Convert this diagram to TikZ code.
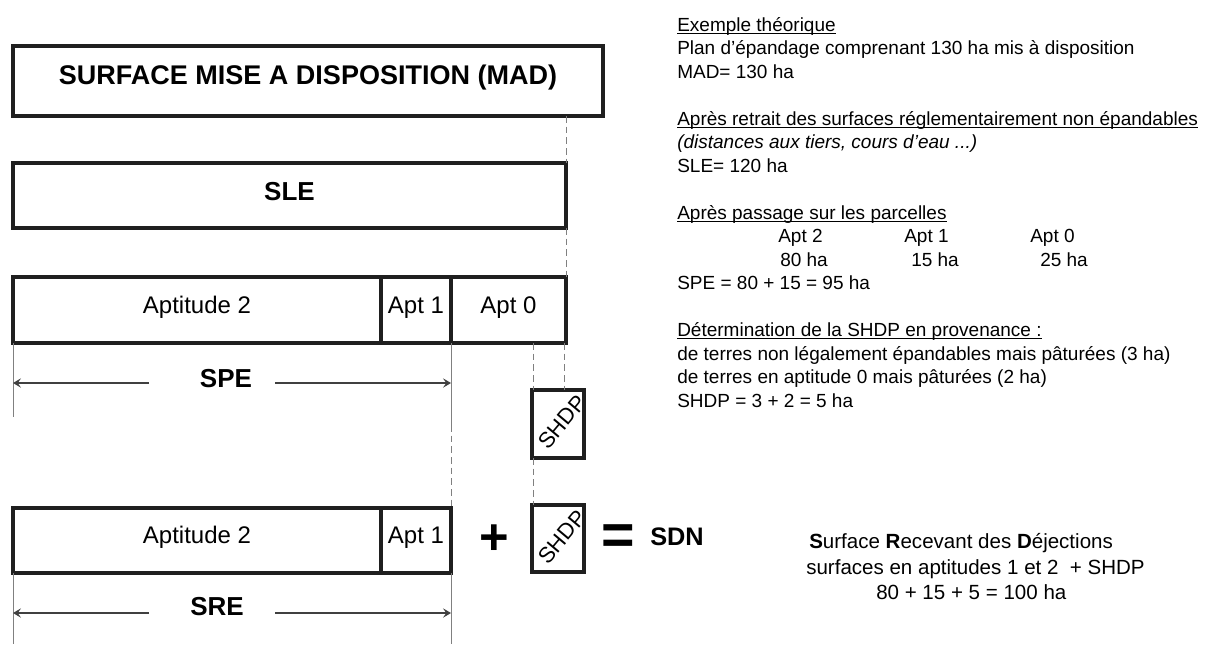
\documentclass[tikz,border=0pt]{standalone}
\usepackage{fontspec}
\setmainfont{Liberation Sans}
\usetikzlibrary{fit,arrows.meta}
\newcommand\ulx[1]{\underline{\smash{#1}}}
\begin{document}
\begin{tikzpicture}[x=0.75pt,y=-0.75pt,
  box/.style={draw=black!88, line width=3pt, inner sep=0pt},
  big/.style={font=\fontsize{20.25}{22}\selectfont\bfseries, inner sep=0pt, text height=0.72em, text depth=0.2em},
  lbl/.style={font=\fontsize{19.5}{22}\selectfont\bfseries, inner sep=0pt, text height=0.72em, text depth=0em},
  apt/.style={font=\fontsize{18}{20}\selectfont, inner sep=0pt, text height=0.72em, text depth=0.2em},
  rot/.style={font=\fontsize{16.5}{18}\selectfont, rotate=50, inner sep=0pt},
  dim/.style={draw=black!75, line width=0.8pt, -{Stealth[length=6pt,width=7pt,inset=2.5pt]}},
  ext/.style={draw=black!50, line width=0.7pt},
  dsh/.style={draw=black!50, line width=0.7pt, dash pattern=on 5pt off 3pt},
  txt/.style={font=\fontsize{14.25}{17}\selectfont, anchor=base west, inner sep=0pt},
  btxt/.style={font=\fontsize{15.4}{18}\selectfont, anchor=base west, inner sep=0pt}]
\useasboundingbox (0,0) rectangle (1220,644);
\fill[white] (0,0) rectangle (1220,644);

% boxes
\node[box, fit={(13,46)(603,116)}] (mad) {};
\node[big] (madt) at (mad.center) {SURFACE MISE A DISPOSITION (MAD)};
\node[box, fit={(13,163)(566,228)}] (sle) {};
\node[lbl] (slet) at (sle.center) {SLE};
\node[box, fit={(13,277)(381,343)}] (a2) {};
\node[apt] (a2t) at (a2.center) {Aptitude 2};
\node[box, fit={(381,277)(451,343)}] (a1) {};
\node[apt] (a1t) at (a1.center) {Apt 1};
\node[box, fit={(451,277)(566,343)}] (a0) {};
\node[apt] (a0t) at (a0.center) {Apt 0};
\node[box, fit={(532,390)(584,458)}] (sh1) {};
\node[rot] (sh1t) at (562,422) {SHDP};
\node[box, fit={(13,508)(381,573)}] (b2) {};
\node[apt] (b2t) at (b2.center) {Aptitude 2};
\node[box, fit={(381,508)(451,573)}] (b1) {};
\node[apt] (b1t) at (b1.center) {Apt 1};
\node[box, fit={(532,505)(584,572)}] (sh2) {};
\node[rot] (sh2t) at (562,537) {SHDP};
\node[font=\fontsize{38}{40}\selectfont\bfseries, inner sep=0pt] (plus) at (494,540) {+};
\node[font=\fontsize{43}{45}\selectfont\bfseries, inner sep=0pt] (eq) at (618,540) {=};
\node[font=\fontsize{19}{22}\selectfont\bfseries, inner sep=0pt] (sdn) at (677,537) {SDN};

% dashed guides
\coordinate (m1) at (566,116); \coordinate (s1) at (566,163);
\draw[dsh] (m1) -- (s1);
\coordinate (s2) at (566,228); \coordinate (t2) at (566,277);
\draw[dsh] (s2) -- (t2);
\coordinate (p1) at (533,343); \coordinate (q1) at (533,390);
\coordinate (p2) at (564,343); \coordinate (q2) at (564,390);
\draw[dsh] (p1) -- (q1);
\draw[dsh] (p2) -- (q2);
\coordinate (r1) at (533,458); \coordinate (r2) at (533,505);
\draw[dsh] (r1) -- (r2);

% SPE dimension
\coordinate (e1) at (13,343); \coordinate (e2) at (13,417);
\coordinate (f1) at (451,343); \coordinate (f2) at (451,425); \coordinate (f3) at (451,508);
\draw[ext] (e1) -- (e2);
\draw[ext] (f1) -- (f2);
\draw[dsh] (f2) -- (f3);
\node[lbl] (spe) at (226,383) {SPE};
\coordinate (spl) at (149,383); \coordinate (spr) at (275,383);
\coordinate (spl2) at (13,383); \coordinate (spr2) at (451,383);
\draw[dim] (spl) -- (spl2);
\draw[dim] (spr) -- (spr2);

% SRE dimension
\coordinate (g1) at (13,573); \coordinate (g2) at (13,644);
\coordinate (h1) at (451,573); \coordinate (h2) at (451,644);
\draw[ext] (g1) -- (g2);
\draw[ext] (h1) -- (h2);
\node[lbl] (sre) at (217,611) {SRE};
\coordinate (srl) at (149,613); \coordinate (srr) at (275,613);
\coordinate (srl2) at (13,613); \coordinate (srr2) at (451,613);
\draw[dim] (srl) -- (srl2);
\draw[dim] (srr) -- (srr2);

% right text
\node[txt] (t0) at (677,31) {\ulx{Exemple théorique}};
\node[txt] (t1) at (677,54.5) {Plan d’épandage comprenant 130 ha mis à disposition};
\node[txt] (t2) at (677,78) {MAD= 130 ha};
\node[txt] (t4) at (677,125) {\ulx{Après retrait des surfaces réglementairement non épandables}};
\node[txt] (t5) at (677,148.5) {\itshape (distances aux tiers, cours d’eau ...)};
\node[txt] (t6) at (677,172) {SLE= 120 ha};
\node[txt] (t8) at (677,219) {\ulx{Après passage sur les parcelles}};
\node[txt] (c1) at (778,242.5) {Apt 2};
\node[txt] (c2) at (904,242.5) {Apt 1};
\node[txt] (c3) at (1030,242.5) {Apt 0};
\node[txt] (d1) at (780,266) {80 ha};
\node[txt] (d2) at (911,266) {15 ha};
\node[txt] (d3) at (1040,266) {25 ha};
\node[txt] (t11) at (677,289.5) {SPE = 80 + 15 = 95 ha};
\node[txt] (t13) at (677,336.5) {\ulx{Détermination de la SHDP en provenance :}};
\node[txt] (t14) at (677,360) {de terres non légalement épandables mais pâturées (3 ha)};
\node[txt] (t15) at (677,383.5) {de terres en aptitude 0 mais pâturées (2 ha)};
\node[txt] (t16) at (677,407) {SHDP = 3 + 2 = 5 ha};

% bottom right text
\node[btxt] (u1) at (809,548) {\textbf{S}urface \textbf{R}ecevant des \textbf{D}éjections};
\node[btxt] (u2) at (806,574) {surfaces en aptitudes 1 et 2\ \ + SHDP};
\node[btxt] (u3) at (876,599) {80 + 15 + 5 = 100 ha};
\end{tikzpicture}
\end{document}
